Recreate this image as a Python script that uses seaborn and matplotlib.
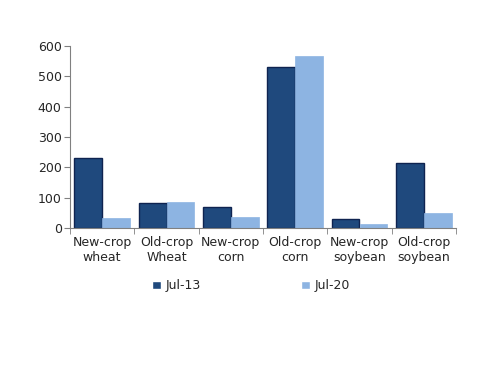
import pandas as pd
import seaborn as sns
import matplotlib.pyplot as plt
from matplotlib.ticker import FixedLocator

categories = ['New-crop\nwheat', 'Old-crop\nWheat', 'New-crop\ncorn', 'Old-crop\ncorn', 'New-crop\nsoybean', 'Old-crop\nsoybean']
jul13 = [231, 84, 68, 531, 29, 216]
jul20 = [33, 87, 37, 567, 12, 50]

df = pd.DataFrame({
    'cat': categories * 2,
    'val': jul13 + jul20,
    'series': ['Jul-13'] * 6 + ['Jul-20'] * 6,
})

sns.set_style('white')
plt.rcParams['font.family'] = ['DejaVu Sans']

fig = plt.figure(figsize=(5, 3.86), dpi=100)
ax = fig.add_axes([0.14, 0.409, 0.772, 0.472])

sns.barplot(data=df, x='cat', y='val', hue='series', ax=ax,
            palette=['#1F497D', '#8DB4E2'], width=0.87, saturation=1)
for p in ax.patches[:6]:
    p.set_edgecolor('#0F2350')
    p.set_linewidth(1)
for p in ax.patches[6:12]:
    p.set_edgecolor('#8DB4E2')
    p.set_linewidth(0.5)

ax.set_xlim(-0.5, 5.5)
ax.set_ylim(0, 600)
ax.set_yticks(range(0, 601, 100))
ax.set_xlabel('')
ax.set_ylabel('')
sns.despine(ax=ax)
for s in ['left', 'bottom']:
    ax.spines[s].set_color('#808080')
ax.tick_params(axis='y', left=True, length=4, color='#808080', labelsize=9, pad=2)
ax.tick_params(axis='x', bottom=True, length=0, labelsize=9, pad=6)
ax.xaxis.set_minor_locator(FixedLocator([i + 0.5 for i in range(-1, 6)]))
ax.tick_params(axis='x', which='minor', bottom=True, length=4, color='#808080', direction='out')

ax.legend(loc='upper center', bbox_to_anchor=(0.47, -0.22), ncol=2, frameon=False,
          fontsize=9, handlelength=0.7, handleheight=0.7, columnspacing=8, handletextpad=0.4)

fig.savefig('out.png', dpi=100)
